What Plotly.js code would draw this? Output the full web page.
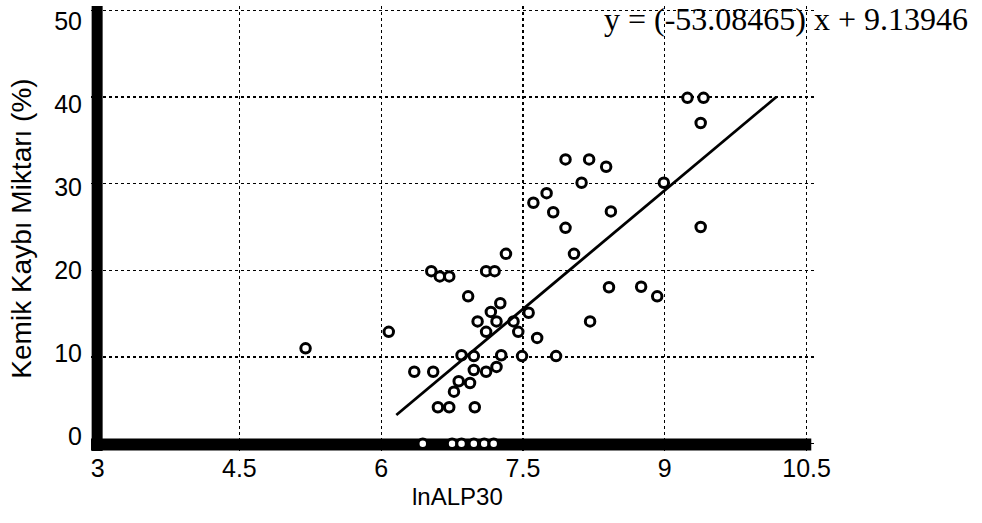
<!DOCTYPE html>
<html>
<head>
<meta charset="utf-8">
<script src="https://cdn.plot.ly/plotly-3.0.1.min.js"></script>
<style>html,body{margin:0;padding:0;background:#fff;}#chart{width:982px;height:523px;}</style>
</head>
<body>
<div id="chart"></div>
<script>
// lnALP30 values (x) and bone loss % (y)
const lnALP30 = [5.20, 6.08, 6.35, 6.55, 6.53, 6.62, 6.72, 7.11, 7.20, 7.32,
  6.92, 7.26, 7.16, 7.02, 7.22, 7.11, 7.40, 7.45, 7.56, 7.65,
  6.85, 6.98, 7.27, 7.49, 7.85, 6.98, 7.11, 7.22, 6.82, 6.94,
  6.77, 6.60, 6.72, 6.99, 6.44, 6.75, 6.85, 6.98, 7.09, 7.19,
  7.95, 8.20, 8.38, 8.12, 8.99, 7.75, 7.61, 7.82, 8.43, 7.95,
  9.38, 8.04, 8.41, 8.75, 8.92, 8.21, 9.24, 9.41, 9.38];
const kemikKaybi = [11.0, 12.9, 8.3, 8.3, 19.9, 19.3, 19.3, 19.9, 19.9, 21.9,
  17.0, 16.2, 15.2, 14.1, 14.1, 12.9, 14.1, 12.9, 15.1, 12.2,
  10.2, 10.1, 10.2, 10.1, 10.1, 8.5, 8.3, 8.85, 7.2, 7.0,
  6.0, 4.2, 4.2, 4.2, 0, 0, 0, 0, 0, 0,
  32.8, 32.8, 31.95, 30.1, 30.1, 28.9, 27.8, 26.7, 26.8, 24.9,
  25.0, 21.9, 18.05, 18.1, 17.0, 14.1, 39.9, 39.9, 37.0];
// regression line end points
const fitX = [6.16, 10.18];
const fitY = [3.3, 40.0];
const xTicks = [3, 4.5, 6, 7.5, 9, 10.5];
const xTickText = ['3', '4.5', '6', '7.5', '9', '10.5'];
const yTicks = [0, 10, 20, 30, 40, 50];
const yTickText = ['0', '10', '20', '30', '40', '50'];
const equationText = 'y = (-53.08465) x + 9.13946';
const xTitleText = 'lnALP30';

const traces = [
  {
    x: lnALP30, y: kemikKaybi, type: 'scatter', mode: 'markers',
    marker: {symbol: 'circle', size: 9.5, color: '#ffffff', line: {color: '#000000', width: 3}},
    hoverinfo: 'x+y', showlegend: false, cliponaxis: false
  },
  {
    x: fitX, y: fitY, type: 'scatter', mode: 'lines',
    line: {color: '#000000', width: 2.8}, showlegend: false
  },
  // carrier for the tick-label axis (the printed labels sit a little off the grid)
  {
    x: [xTicks[0]], y: [yTicks[0]], xaxis: 'x', yaxis: 'y2', type: 'scatter', mode: 'markers',
    marker: {size: 0.1, opacity: 0}, hoverinfo: 'skip', showlegend: false
  }
];

const sansFont = 'Liberation Sans, Arial, Helvetica, sans-serif';
const layout = {
  width: 982, height: 523,
  margin: {l: 91, r: 166, t: 6, b: 72},
  paper_bgcolor: '#ffffff', plot_bgcolor: '#ffffff',
  showlegend: false,
  xaxis: {
    range: [2.93, 10.6],
    tickmode: 'array', tickvals: xTicks, ticktext: xTickText,
    showgrid: true, gridcolor: '#000000', gridwidth: 1.3, griddash: 'dot',
    zeroline: false, showline: false, ticks: '',
    ticklabelstandoff: 0, ticklabeloverflow: 'allow',
    tickfont: {family: sansFont, size: 25, color: '#000000'},
    automargin: false
  },
  yaxis: {
    range: [-0.85, 50.5],
    tickmode: 'array', tickvals: yTicks,
    showgrid: true, gridcolor: '#000000', gridwidth: 1.3, griddash: 'dot',
    zeroline: false, showline: false, ticks: '', showticklabels: false,
    automargin: false
  },
  yaxis2: {
    overlaying: 'y', anchor: 'x', side: 'left',
    range: [-1.81, 51.81],
    tickmode: 'array', tickvals: yTicks, ticktext: yTickText,
    showgrid: false, zeroline: false, showline: false, ticks: '',
    ticklabelstandoff: 8, ticklabeloverflow: 'allow',
    tickfont: {family: sansFont, size: 25, color: '#000000'},
    title: {text: 'Kemik Kaybı Miktarı (%)', font: {family: sansFont, size: 28, color: '#000000'}, standoff: 14},
    automargin: false
  },
  shapes: [
    {type: 'line', xref: 'x', yref: 'y', x0: 2.93, x1: 10.55, y0: -0.1, y1: -0.1,
     line: {color: '#000000', width: 12}, layer: 'between'},
    {type: 'line', xref: 'x', yref: 'y', x0: 2.995, x1: 2.995, y0: -0.85, y1: 50.5,
     line: {color: '#000000', width: 11}, layer: 'between'}
  ],
  annotations: [
    {text: equationText, xref: 'paper', yref: 'paper', x: 0.959, y: 1.0135,
     xanchor: 'center', yanchor: 'top', showarrow: false, borderpad: 0,
     font: {family: 'Liberation Serif, Times New Roman, serif', size: 32, color: '#000000'}},
    {text: xTitleText, xref: 'paper', yref: 'paper', x: 0.505, y: -0.103,
     xanchor: 'center', yanchor: 'middle', showarrow: false, borderpad: 0,
     font: {family: sansFont, size: 24, color: '#000000'}}
  ]
};

Plotly.newPlot('chart', traces, layout, {displayModeBar: false, staticPlot: true});
</script>
</body>
</html>
